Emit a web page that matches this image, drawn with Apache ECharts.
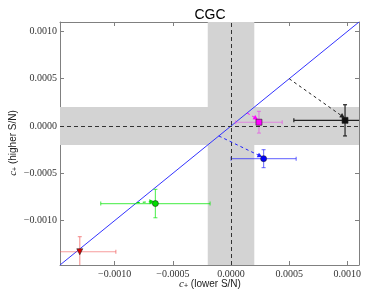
<!DOCTYPE html>
<html>
<head>
<meta charset="utf-8">
<script src="https://cdn.jsdelivr.net/npm/echarts@6/dist/echarts.min.js"></script>
<style>html,body{margin:0;padding:0;background:#fff;}#chart{width:374px;height:299px;}</style>
</head>
<body>
<div id="chart"></div>
<script>
// ---- data ----
const axisMin = -0.00147;
const axisMax = 0.0011;
const pointX  = [0.00098, 0.00024, 0.00028, -0.00065, -0.00130];
const pointY  = [0.00006, 0.00004, -0.000345, -0.00082, -0.00133];
const errX    = [0.00044, 0.00020, 0.00028, 0.00047, 0.00031];
const errY    = [0.000165, 0.000115, 0.000095, 0.00015, 0.00016];
const arrowFromX = [0.0005, 0.000138, -0.000105, -0.00081];
const arrowFromY = [0.0005, 0.000138, -0.000105, -0.00081];
const arrowToX   = [0.00096, 0.000215, 0.00025, -0.00068];
const arrowToY   = [0.00010, 0.00008, -0.000317, -0.00080];
const bandHalf = 0.0002;

// ---- styles ----
const markerColors = ['#111111', '#ff00ff', '#0000ff', '#00dd00', '#dd0000'];
const errColors    = ['#222222', 'rgba(230,80,230,0.6)', 'rgba(40,40,255,0.6)', 'rgba(0,230,0,0.6)', 'rgba(240,90,90,0.6)'];
const arrowColors  = ['#222222', '#ff00ff', '#2020ff', '#00dd00'];
const symbols      = ['rect', 'rect', 'circle', 'circle', 'triangle'];

function fmt(v) {
  let s = Math.abs(v) < 1e-12 ? '0.0000' : v.toFixed(4);
  return s.replace('-', '\u2212');
}

const chart = echarts.init(document.getElementById('chart'), null, {renderer: 'canvas'});

const tickFont = {fontFamily: 'Liberation Serif', fontSize: 10, color: '#333'};
function axisCommon(extra) {
  return Object.assign({
    type: 'value', min: axisMin, max: axisMax, splitNumber: 5,
    splitLine: {show: false},
    axisLine: {show: true, onZero: false, lineStyle: {color: '#808080', width: 1}},
    axisTick: {show: true, inside: true, length: 4, lineStyle: {color: '#808080'}},
  }, extra);
}

const errData = pointX.map((x, i) => [x, pointY[i], errX[i], errY[i], i]);

const series = [];
// bands + zero lines + diagonal
series.push({
  type: 'line', xAxisIndex: 0, yAxisIndex: 0, z: 1,
  data: [[axisMin, axisMin], [axisMax, axisMax]],
  symbol: 'none', lineStyle: {color: '#3333ff', width: 1},
  clip: true,
  markArea: {
    silent: true,
    itemStyle: {color: '#d3d3d3', opacity: 1},
    data: [
      [{xAxis: -bandHalf}, {xAxis: bandHalf}],
      [{yAxis: -bandHalf}, {yAxis: bandHalf}]
    ]
  },
  markLine: {
    silent: true, symbol: 'none', label: {show: false},
    lineStyle: {color: '#333', type: [4, 3], width: 1},
    data: [{xAxis: 0}, {yAxis: 0}]
  }
});
// arrows
arrowFromX.forEach((fx, i) => {
  series.push({
    type: 'line', data: [], z: 3, silent: true,
    markLine: {
      silent: true, symbol: ['none', 'triangle'], symbolSize: [5, 5],
      label: {show: false},
      lineStyle: {color: arrowColors[i], type: [3, 3], width: 1},
      data: [[{coord: [fx, arrowFromY[i]]}, {coord: [arrowToX[i], arrowToY[i]]}]]
    }
  });
});
// error bars
series.push({
  type: 'custom', z: 4, clip: true,
  data: errData,
  renderItem: function (params, api) {
    const x = api.value(0), y = api.value(1), ex = api.value(2), ey = api.value(3), idx = api.value(4);
    const c = api.coord([x, y]);
    const l = api.coord([x - ex, y]), r = api.coord([x + ex, y]);
    const t = api.coord([x, y + ey]), b = api.coord([x, y - ey]);
    const cap = 2;
    const st = {stroke: errColors[idx], lineWidth: 1.2};
    const lines = [
      [l[0], c[1], r[0], c[1]],
      [l[0], c[1] - cap, l[0], c[1] + cap],
      [r[0], c[1] - cap, r[0], c[1] + cap],
      [c[0], t[1], c[0], b[1]],
      [c[0] - cap, t[1], c[0] + cap, t[1]],
      [c[0] - cap, b[1], c[0] + cap, b[1]]
    ];
    return {
      type: 'group',
      children: lines.map(p => ({type: 'line', shape: {x1: p[0], y1: p[1], x2: p[2], y2: p[3]}, style: st}))
    };
  }
});
// markers
pointX.forEach((x, i) => {
  series.push({
    type: 'scatter', z: 5,
    data: [[x, pointY[i]]],
    symbol: symbols[i],
    symbolSize: 6,
    symbolRotate: symbols[i] === 'triangle' ? 180 : 0,
    itemStyle: {color: markerColors[i], borderColor: '#222', borderWidth: 0.6, opacity: 1}
  });
});

chart.setOption({
  animation: false,
  grid: {left: 60, right: 15, top: 22, bottom: 34},
  xAxis: [
    axisCommon({position: 'bottom', axisLabel: Object.assign({margin: 4, formatter: fmt, showMinLabel: false, showMaxLabel: false}, tickFont)}),
    axisCommon({position: 'top', axisLabel: {show: false}})
  ],
  yAxis: [
    axisCommon({position: 'left', axisLabel: Object.assign({margin: 3, formatter: fmt, showMinLabel: false, showMaxLabel: false}, tickFont)}),
    axisCommon({position: 'right', axisLabel: {show: false}})
  ],
  series: series,
  graphic: [
    {type: 'text', x: 210, y: 15, style: {text: 'CGC', fill: '#000', font: '14px "Liberation Sans"', align: 'center', verticalAlign: 'middle'}},
    {type: 'text', x: 210, y: 284, style: {
      text: '{c|c}{s|+} (lower S/N)', align: 'center', verticalAlign: 'middle', fill: '#222',
      font: '10px "Liberation Sans"',
      rich: {c: {fontFamily: 'Liberation Serif', fontStyle: 'italic', fontSize: 11, fill: '#222'},
             s: {fontFamily: 'Liberation Sans', fontSize: 7, verticalAlign: 'bottom', fill: '#222'}}
    }},
    {type: 'text', x: 13, y: 143, rotation: Math.PI / 2, style: {
      text: '{c|c}{s|+} (higher S/N)', align: 'center', verticalAlign: 'middle', fill: '#222',
      font: '10px "Liberation Sans"',
      rich: {c: {fontFamily: 'Liberation Serif', fontStyle: 'italic', fontSize: 11, fill: '#222'},
             s: {fontFamily: 'Liberation Sans', fontSize: 7, verticalAlign: 'bottom', fill: '#222'}}
    }}
  ]
});
</script>
</body>
</html>
